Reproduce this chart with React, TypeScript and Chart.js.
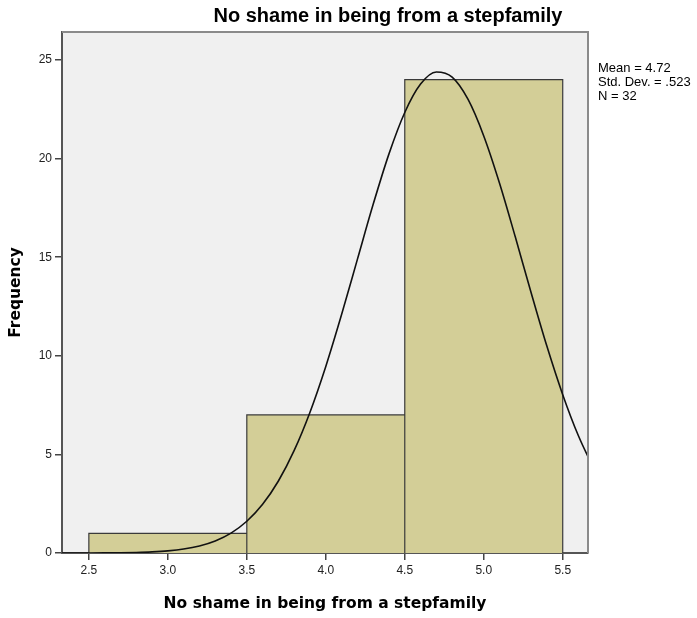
import React, { useEffect, useRef } from "react";
import { Chart, registerables } from "chart.js";

Chart.register(...registerables);

const binEdges = [2.5, 3.5, 4.5, 5.5];
const frequencies = [1, 7, 24];
const xTicks = [2.5, 3.0, 3.5, 4.0, 4.5, 5.0, 5.5];
const yTicks = [0, 5, 10, 15, 20, 25];
const curveX = [2.3, 2.4, 2.5, 2.6, 2.7, 2.8, 2.9, 3.0, 3.1, 3.2, 3.3, 3.4, 3.5, 3.6, 3.7, 3.8, 3.9, 4.0, 4.1, 4.2, 4.3, 4.4, 4.5, 4.6, 4.7, 4.8, 4.9, 5.0, 5.1, 5.2, 5.3, 5.4, 5.5, 5.6, 5.7];
const curveY = [0.0005, 0.0013, 0.003, 0.0066, 0.0141, 0.0289, 0.0573, 0.109, 0.201, 0.358, 0.612, 1.01, 1.61, 2.47, 3.65, 5.2, 7.14, 9.46, 12.09, 14.89, 17.68, 20.24, 22.34, 23.78, 24.39, 24.13, 23.01, 21.15, 18.75, 16.02, 13.2, 10.48, 8.03, 5.93, 4.22];
const statsLines = ["Mean = 4.72", "Std. Dev. = .523", "N = 32"];
const chartTitle = "No shame in being from a stepfamily";
const xTitle = "No shame in being from a stepfamily";
const yTitle = "Frequency";

export default function App() {
  const ref = useRef<HTMLCanvasElement>(null);
  useEffect(() => {
    const canvas = ref.current!;
    const outline: { x: number; y: number }[] = [];
    frequencies.forEach((f, i) => {
      const lo = binEdges[i];
      const hi = binEdges[i + 1];
      outline.push({ x: lo, y: 0 }, { x: lo, y: f }, { x: hi, y: f }, { x: hi, y: 0 });
    });
    const curve = curveX.map((x, i) => ({ x, y: curveY[i] }));

    const decor = {
      id: "decor",
      beforeDraw(chart: any) {
        const { ctx, chartArea: a } = chart;
        ctx.save();
        ctx.fillStyle = "#F0F0F0";
        ctx.fillRect(a.left, a.top, a.right - a.left, a.bottom - a.top);
        ctx.restore();
      },
      afterDraw(chart: any) {
        const { ctx, chartArea: a } = chart;
        ctx.save();
        ctx.strokeStyle = "#8a8a8a";
        ctx.lineWidth = 2;
        ctx.beginPath();
        ctx.moveTo(a.left, a.top);
        ctx.lineTo(a.right, a.top);
        ctx.lineTo(a.right, a.bottom);
        ctx.stroke();
        ctx.fillStyle = "#000";
        ctx.font = "bold 20px Arial, 'Liberation Sans', sans-serif";
        ctx.textAlign = "center";
        ctx.textBaseline = "middle";
        ctx.fillText(chartTitle, 388, 16);
        ctx.font = "13px Arial, 'Liberation Sans', sans-serif";
        ctx.textAlign = "left";
        statsLines.forEach((s, i) => ctx.fillText(s, 598, 68 + i * 14));
        ctx.restore();
      },
    };

    const tickFont = { family: "Arial, 'Liberation Sans', sans-serif", size: 12 };
    const titleFont = { family: "'DejaVu Sans', Verdana, sans-serif", size: 15.5, weight: "bold" };
    const chart = new Chart(canvas, {
      type: "line",
      data: {
        datasets: [
          {
            data: curve,
            borderColor: "#111",
            borderWidth: 1.6,
            pointRadius: 0,
            fill: false,
            cubicInterpolationMode: "monotone",
          } as any,
          {
            data: outline,
            borderColor: "#3a3a3a",
            borderWidth: 1.2,
            backgroundColor: "#D3CE97",
            pointRadius: 0,
            fill: "origin",
            tension: 0,
          } as any,
        ],
      },
      options: {
        responsive: false,
        animation: false,
        devicePixelRatio: 1,
        layout: { padding: { top: 32, right: 109, left: 0, bottom: 0 } },
        plugins: { legend: { display: false }, tooltip: { enabled: false }, title: { display: false } },
        scales: {
          x: {
            type: "linear",
            min: 2.33,
            max: 5.66,
            afterBuildTicks: (s: any) => {
              s.ticks = xTicks.map((v) => ({ value: v }));
            },
            afterFit: (s: any) => {
              s.height = 65;
            },
            ticks: {
              callback: (v: any) => Number(v).toFixed(1),
              color: "#222",
              font: tickFont,
              padding: 3,
              maxRotation: 0,
              autoSkip: false,
            },
            grid: { drawOnChartArea: false, drawTicks: true, tickLength: 7, color: "#444", lineWidth: 1.5 },
            border: { display: true, color: "#555", width: 2 },
            title: {
              display: true,
              text: xTitle,
              color: "#000",
              font: titleFont,
              padding: { top: 0, bottom: 5 },
            },
          },
          y: {
            type: "linear",
            min: 0,
            max: 26.42,
            afterBuildTicks: (s: any) => {
              s.ticks = yTicks.map((v) => ({ value: v }));
            },
            afterFit: (s: any) => {
              s.width = 62;
            },
            ticks: { color: "#222", font: tickFont, padding: 3 },
            grid: { drawOnChartArea: false, drawTicks: true, tickLength: 7, color: "#444", lineWidth: 1.5 },
            border: { display: true, color: "#555", width: 2 },
            title: {
              display: true,
              text: yTitle,
              color: "#000",
              font: titleFont,
              padding: { top: 7, bottom: 0 },
            },
          },
        },
      } as any,
      plugins: [decor],
    });
    return () => chart.destroy();
  }, []);
  return (
    <div style={{ position: "absolute", left: 0, top: 0, width: 697, height: 618, background: "#fff" }}>
      <canvas ref={ref} width={697} height={618} style={{ display: "block" }} />
    </div>
  );
}
